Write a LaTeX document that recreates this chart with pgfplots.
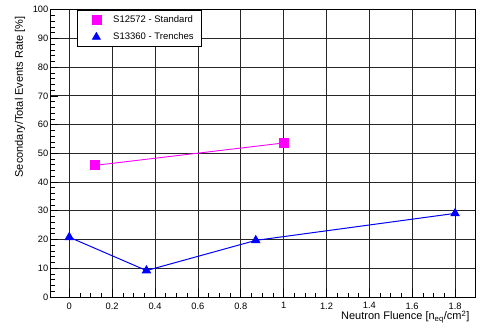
\documentclass[border=0pt]{standalone}
\usepackage{fontspec}
\setmainfont{Liberation Sans}
\usepackage{pgfplots}
\pgfplotsset{compat=1.18}
\definecolor{rootmag}{RGB}{255,0,255}
\definecolor{rootblue}{RGB}{0,0,255}
\begin{document}
\begin{tikzpicture}
\useasboundingbox (-50pt,-30pt) rectangle (450pt,297pt);
\begin{axis}[
  scale only axis, width=425pt, height=287.4pt,
  xmin=-0.09, xmax=1.893, ymin=0, ymax=100,
  xtick={0,0.2,0.4,0.6,0.8,1,1.2,1.4,1.6,1.8},
  ytick={0,10,20,30,40,50,60,70,80,90,100},
  minor x tick num=3, minor y tick num=4,
  scaled x ticks=false,
  tick pos=left, tick align=inside,
  major tick length=8pt, minor tick length=4.5pt,
  grid=major,
  major grid style={black!85, line width=0.7pt},
  axis line style={black, line width=0.8pt},
  every tick/.style={black, line width=0.6pt},
  /pgf/number format/assume math mode=true,
  ticklabel style={font=\fontsize{9.3}{10}\selectfont},
  xticklabel style={yshift=-2pt},
  yticklabel style={inner xsep=1.5pt},
  xlabel={Neutron Fluence [n\textsubscript{eq}/cm\textsuperscript{2}]},
  ylabel={Secondary/Total Events Rate [\%]},
  label style={font=\fontsize{11}{12}\selectfont},
  xlabel style={at={(axis description cs:0.995,-0.080)}, anchor=base east},
  ylabel style={at={(axis description cs:-0.0706,0.988)}, anchor=east},
  legend cell align=left,
  legend image code/.code={\draw[#1] plot coordinates {(0.45cm,0cm)}; \path (0cm,0cm) (0.75cm,0cm);},
  legend style={at={(rel axis cs:0.0635,1)}, anchor=north west, draw=black, line width=0.6pt,
    font=\fontsize{9.5}{10}\selectfont, row sep=5pt, inner xsep=6pt, inner ysep=3.5pt},
]
\addlegendimage{only marks, mark=square*, mark size=4.5pt, color=rootmag}
\addlegendentry{\hspace{6pt}S12572 - Standard\hspace{15pt}}
\addlegendimage{only marks, mark=triangle*, mark size=4.6pt, color=rootblue}
\addlegendentry{\hspace{6pt}S13360 - Trenches\hspace{15pt}}
\addplot[forget plot, color=rootmag, line width=0.9pt, mark=square*, mark size=4.5pt] coordinates {
  (0.12,45.8) (1.0,53.6)
};
\addplot[forget plot, color=rootblue, line width=1pt, mark=triangle*, mark size=4.6pt] coordinates {
  (0,20.8) (0.36,9.2) (0.87,19.7) (1.8,29.1)
};
\node[anchor=base west, inner xsep=1pt, font=\fontsize{9.3}{10}\selectfont] at (rel axis cs:1,0) {×10\textsuperscript{9}};
\end{axis}
\end{tikzpicture}
\end{document}
